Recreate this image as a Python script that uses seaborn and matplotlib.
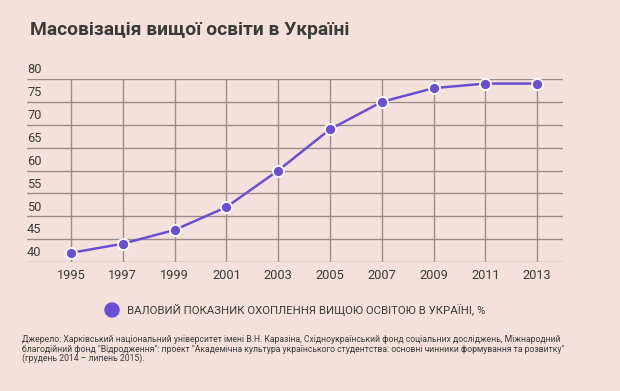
import matplotlib
matplotlib.use("Agg")
import matplotlib.pyplot as plt
import seaborn as sns
import pandas as pd

years = [1995, 1997, 1999, 2001, 2003, 2005, 2007, 2009, 2011, 2013]
values = [42, 44, 47, 52, 60, 69, 75, 78, 79, 79]
y_ticks = [40, 45, 50, 55, 60, 65, 70, 75, 80]
title = "Масовізація вищої освіти в Україні"
series_label = "ВАЛОВИЙ ПОКАЗНИК ОХОПЛЕННЯ ВИЩОЮ ОСВІТОЮ В УКРАЇНІ, %"
source_lines = [
    "Джерело: Харківський національний університет імені В.Н. Каразіна, Східноукраїнський фонд соціальних досліджень, Міжнародний",
    "благодійний фонд \"Відродження\": проект \"Академічна культура українського студентства: основні чинники формування та розвитку\"",
    "(грудень 2014 – липень 2015).",
]

sns.set_theme(style="white")
plt.rcParams['font.family'] = ['Roboto', 'DejaVu Sans']

bg = "#f5e1db"
purple = "#6a4fd6"
grid = "#9c8c88"
txt = "#3a3a3a"

df = pd.DataFrame({"year": years, "value": values})

fig = plt.figure(figsize=(6.2, 3.91), dpi=100, facecolor=bg)
ax = fig.add_axes([27/620, 1 - 262/391, (563-27)/620, (262-79)/391])
ax.set_facecolor(bg)

sns.lineplot(data=df, x="year", y="value", ax=ax, color=purple, linewidth=1.8,
             marker="o", markersize=8, markeredgecolor="white", markeredgewidth=1.3,
             zorder=5, clip_on=False)

ax.set_xlim(1993.3, 2014.0)
ax.set_ylim(40, 80)
ax.set_xticks(years)
ax.set_xticklabels([str(y) for y in years], fontsize=9.2, color=txt)
ax.set_yticks(y_ticks)
ax.set_yticklabels([])
ax.tick_params(axis='both', length=0, pad=5)
for yv in y_ticks:
    ax.axhline(yv, color=grid, lw=1, zorder=1)
    ax.text(1993.3, yv + 0.6, str(yv), fontsize=9.2, color=txt, ha='left', va='bottom')
for xv in years:
    ax.axvline(xv, color=grid, lw=1, zorder=1)
ax.grid(False)
for s in ax.spines.values():
    s.set_visible(False)
ax.set_xlabel("")
ax.set_ylabel("")

fig.text(30/620, 1 - 30/391, title, fontsize=13.9, fontweight='bold', color=txt,
         ha='left', va='center')

fig.patches.append(matplotlib.patches.Ellipse((112/620, 1 - 310/391), 14/620, 14/391,
                                              transform=fig.transFigure, color=purple))
fig.text(127/620, 1 - 310/391, series_label, fontsize=8.2, color=txt, ha='left', va='center')

for i, line in enumerate(source_lines):
    fig.text(22/620, 1 - (340 + 9.3 * i)/391, line, fontsize=6.2, color=txt,
             ha='left', va='center')

fig.savefig("out.png", dpi=100, facecolor=bg)
